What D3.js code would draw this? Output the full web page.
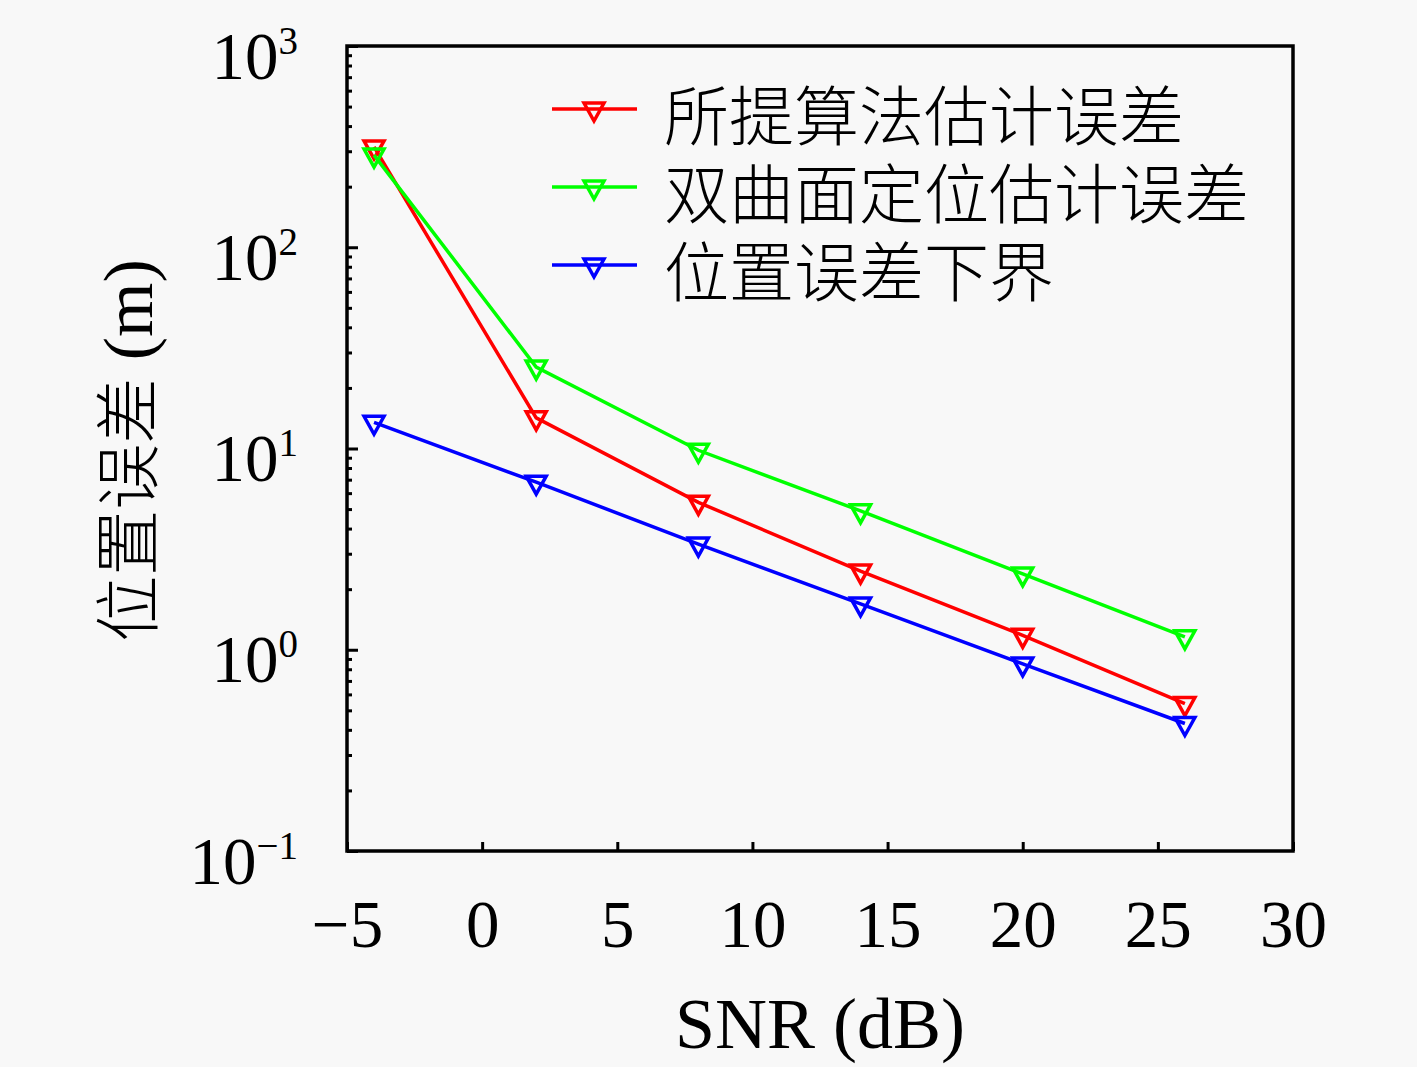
<!DOCTYPE html>
<html>
<head>
<meta charset="utf-8">
<script src="https://cdn.jsdelivr.net/npm/d3@7"></script>
<style>
  body { margin: 0; background: #f8f8f8; }
  svg { display: block; }
  .tick text { font-family: "Liberation Serif", "DejaVu Serif", serif; fill: #000; }
  .cjk { font-family: "Noto Sans CJK SC", sans-serif; font-weight: 300; fill: #000; }
  .serif { font-family: "Liberation Serif", "DejaVu Serif", serif; fill: #000; }
</style>
</head>
<body>
<div></div>
<script>
var snr = [-4, 2, 8, 14, 20, 26];
var proposedErr = [315, 14.2, 5.4, 2.46, 1.18, 0.54];
var hyperbolicErr = [287, 25.4, 9.8, 4.9, 2.38, 1.16];
var lowerBound = [13.5, 6.8, 3.35, 1.69, 0.85, 0.43];
var seriesNames = ["所提算法估计误差", "双曲面定位估计误差", "位置误差下界"];
var seriesColors = ["#ff0000", "#00ff00", "#0000ff"];
var xTicks = [-5, 0, 5, 10, 15, 20, 25, 30];
var yExponents = [-1, 0, 1, 2, 3];

var width = 1417,
    height = 1067,
    margin = { top: 46, right: 124, bottom: 216, left: 347 },
    plotW = width - margin.left - margin.right,
    plotH = height - margin.top - margin.bottom;

var x = d3.scaleLinear().domain([-5, 30]).range([0, plotW]),
    y = d3.scaleLog().domain([0.1, 1000]).range([plotH, 0]);

var svg = d3.select("div")
    .append("svg")
    .attr("width", width)
    .attr("height", height)
    .style("background", "#f8f8f8")
    .append("g")
    .attr("transform", "translate(" + margin.left + "," + margin.top + ")");

// x axis, ticks pointing inwards
var xAxis = svg.append("g")
    .attr("transform", "translate(0," + plotH + ")")
    .call(d3.axisBottom(x).tickValues(xTicks).tickSize(-9)
        .tickFormat(function (d) { return d < 0 ? "\u2212" + (-d) : d; }));
xAxis.select(".domain").remove();
xAxis.selectAll(".tick line").attr("stroke", "#000").attr("stroke-width", 3);
xAxis.selectAll(".tick text")
    .attr("y", 96).attr("dy", 0)
    .style("font-size", "67px");

// y minor ticks
var minors = [];
for (var e = -1; e < 3; e++) {
    for (var m = 2; m < 10; m++) minors.push(m * Math.pow(10, e));
}
var yMinor = svg.append("g")
    .call(d3.axisLeft(y).tickValues(minors).tickSize(-5).tickFormat(""));
yMinor.select(".domain").remove();
yMinor.selectAll(".tick line").attr("stroke", "#000").attr("stroke-width", 3);

// y major ticks with 10^n labels
var yAxis = svg.append("g")
    .call(d3.axisLeft(y).tickValues(yExponents.map(function (p) { return Math.pow(10, p); }))
        .tickSize(-11).tickFormat(""));
yAxis.select(".domain").remove();
yAxis.selectAll(".tick line").attr("stroke", "#000").attr("stroke-width", 3);

var yLab = yAxis.selectAll(".tick text")
    .data(yExponents)
    .attr("x", -49)
    .attr("y", 32)
    .attr("dy", 0)
    .attr("text-anchor", "end")
    .style("font-size", "67px");
yLab.append("tspan").text("10");
yLab.append("tspan")
    .attr("dy", -25)
    .style("font-size", "39px")
    .text(function (d) { return d < 0 ? "\u2212" + (-d) : d; });

// series
var series = [proposedErr, hyperbolicErr, lowerBound];
var line = d3.line()
    .x(function (d, i) { return x(snr[i]); })
    .y(function (d) { return y(d); });

var tri = "M-10,-6L10,-6L0,12Z";

series.forEach(function (vals, k) {
    svg.append("path")
        .datum(vals)
        .attr("fill", "none")
        .attr("stroke", seriesColors[k])
        .attr("stroke-width", 3.5)
        .attr("d", line);
    svg.selectAll(".mk" + k)
        .data(vals)
        .enter()
        .append("path")
        .attr("class", "mk" + k)
        .attr("transform", function (d, i) { return "translate(" + x(snr[i]) + "," + y(d) + ")"; })
        .attr("d", tri)
        .attr("fill", "none")
        .attr("stroke", seriesColors[k])
        .attr("stroke-width", 3.5);
});

// box
svg.append("rect")
    .attr("width", plotW)
    .attr("height", plotH)
    .attr("fill", "none")
    .attr("stroke", "#000")
    .attr("stroke-width", 3.5);

// legend
var legend = svg.selectAll(".legend")
    .data(seriesNames)
    .enter()
    .append("g")
    .attr("class", "legend")
    .attr("transform", function (d, i) { return "translate(205," + (63 + i * 78) + ")"; });

legend.append("line")
    .attr("x1", 0).attr("x2", 85)
    .attr("stroke", function (d, i) { return seriesColors[i]; })
    .attr("stroke-width", 3.5);
legend.append("path")
    .attr("transform", "translate(42,0)")
    .attr("d", tri)
    .attr("fill", "none")
    .attr("stroke", function (d, i) { return seriesColors[i]; })
    .attr("stroke-width", 3.5);
legend.append("text")
    .attr("class", "cjk")
    .attr("x", 112)
    .attr("y", 3)
    .attr("dominant-baseline", "central")
    .style("font-size", "65px")
    .text(String);

// axis labels
svg.append("text")
    .attr("class", "serif")
    .attr("x", plotW / 2)
    .attr("y", 1048 - margin.top)
    .attr("text-anchor", "middle")
    .style("font-size", "72px")
    .text("SNR (dB)");

var yTitle = svg.append("text")
    .attr("transform", "translate(" + (152 - margin.left) + "," + (plotH / 2 + 2) + ") rotate(-90)")
    .attr("text-anchor", "middle")
    .style("font-size", "66px");
yTitle.append("tspan").attr("class", "cjk").text("位置误差");
yTitle.append("tspan").attr("class", "serif").style("font-size", "70px").text(" (m)");
</script>
</body>
</html>
